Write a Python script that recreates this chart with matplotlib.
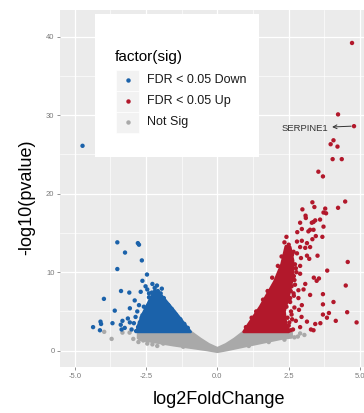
import matplotlib.pyplot as plt
from matplotlib.patches import Rectangle

# colours of the three groups
col_down = '#1B62AA'
col_up = '#B2182B'
col_ns = '#A9A9A9'

# scattered significant genes (log2FC, -log10 p)
up_x = [4.72, 4.23, 4.79, 3.97, 4.07, 4.21, 4.04, 4.36, 3.54, 3.70, 4.48, 4.23, 3.33, 3.40,
        3.78, 2.98, 3.72, 3.81, 3.09, 3.10, 3.43, 3.60, 3.31, 3.37, 2.90, 2.96, 2.80, 3.72,
        3.25, 3.19, 3.37, 3.45, 3.68, 2.79, 2.96, 3.14, 3.25, 3.08, 3.33, 2.90, 2.67, 2.61,
        2.79, 2.44, 3.14, 3.51, 2.93, 4.57, 3.85, 3.22, 3.38, 3.56, 3.48, 3.08, 4.50, 3.25,
        3.70, 3.70, 4.07, 3.91, 3.70, 3.84, 4.55, 4.15, 4.88, 3.43, 3.61, 3.28, 3.37, 3.14,
        2.95, 2.86, 2.96, 2.84, 3.02, 2.84, 2.67, 2.75, 2.90, 2.70, 2.60, 2.90, 2.55, 2.70,
        2.60, 2.75, 2.50, 2.90, 2.65,
        # ragged edge of the dense red cloud
        2.40, 2.52, 2.46, 2.58, 2.42, 2.52, 2.68, 2.57, 2.72, 2.68, 2.77, 2.72, 2.62, 2.50,
        2.35, 2.42, 2.25, 2.12, 1.92, 1.76, 1.60, 1.36, 1.20, 1.00, 2.56, 2.62, 2.47, 2.33,
        2.28, 2.18, 2.45, 2.55]
up_y = [39.2, 30.1, 28.6, 26.3, 26.8, 26.0, 24.4, 24.4, 22.8, 22.2, 19.0, 18.2, 18.9, 18.3,
        18.1, 18.0, 17.6, 17.5, 17.2, 16.9, 16.6, 16.7, 16.3, 16.4, 16.3, 15.5, 15.1, 15.8,
        15.4, 15.2, 15.4, 14.6, 14.5, 13.9, 14.0, 13.7, 13.2, 13.1, 14.2, 13.2, 12.6, 12.2,
        12.4, 11.9, 12.1, 12.1, 11.8, 11.3, 10.2, 11.7, 9.3, 9.2, 8.9, 8.5, 8.3, 7.1,
        7.2, 5.9, 6.2, 4.8, 4.6, 4.2, 4.9, 3.8, 3.6, 3.4, 3.5, 2.7, 2.6, 3.7,
        4.3, 5.2, 5.8, 6.7, 7.8, 7.7, 7.3, 10.5, 9.8, 9.0, 8.2, 10.8, 6.2, 5.5,
        4.6, 3.8, 3.2, 3.0, 2.7,
        3.0, 3.6, 4.2, 5.0, 5.6, 6.3, 7.0, 7.6, 8.4, 9.5, 10.0, 11.0, 12.3, 13.5,
        13.8, 14.5, 12.0, 10.8, 9.3, 7.6, 6.5, 5.0, 4.2, 3.0, 2.6, 4.0, 8.9, 11.4,
        9.6, 8.0, 2.9, 6.7]

down_x = [-4.73, -3.51, -2.79, -2.75, -3.24, -2.65, -3.51, -2.47, -2.63, -3.38, -3.09, -3.98,
          -3.60, -3.07, -4.10, -4.08, -4.36, -4.12, -3.68, -3.33, -3.39, -3.14, -3.07, -3.36,
          -3.25, -2.87, -2.93, -3.01, -2.90, -2.75, -2.69, -2.52, -2.28, -2.09, -2.46, -2.40,
          -1.99, -1.88, -2.81, -2.63,
          # ragged edge of the dense blue cloud
          -2.78, -2.72, -2.66, -2.56, -2.50, -2.44, -2.36, -2.26, -2.15, -2.30, -2.00, -1.86,
          -1.72, -1.60, -1.46, -1.30, -1.16, -1.04, -2.85, -2.58, -2.20, -1.95, -2.40, -2.12]
down_y = [26.1, 13.8, 13.7, 13.5, 12.5, 11.5, 10.4, 9.7, 8.9, 7.6, 7.4, 6.6,
          5.1, 5.4, 3.7, 3.4, 3.0, 2.6, 3.5, 3.8, 3.3, 4.1, 3.6, 2.7,
          2.9, 4.3, 3.5, 2.7, 6.4, 5.8, 7.5, 8.2, 8.5, 7.6, 7.8, 7.3,
          7.3, 6.7, 5.0, 4.5,
          3.0, 3.6, 4.2, 4.6, 5.2, 5.7, 6.2, 6.9, 7.2, 7.4, 6.9, 6.3,
          5.8, 5.3, 4.6, 4.0, 3.4, 2.9, 2.5, 5.6, 8.0, 7.9, 6.8, 8.3]

ns_x = [3.05, 2.82, 2.55, 2.90, -3.97, -3.71, -2.95, -2.77, -2.46, -2.28, -2.11, -3.33, -3.08,
        -2.60, -1.90, -1.20, 1.10, 1.80, 2.35, 2.70]
ns_y = [2.0, 1.8, 1.9, 2.2, 2.4, 1.5, 1.5, 1.1, 0.9, 0.8, 0.6, 2.3, 2.3,
        1.3, 0.9, 0.5, 0.6, 1.1, 1.4, 1.7]

# outlines of the dense clouds of points (too many to read one by one)
down_core_x = [-2.80, -0.94, -1.50, -2.05, -2.20, -2.35, -2.60, -2.80]
down_core_y = [2.4, 2.4, 5.0, 7.4, 7.7, 6.6, 4.8, 3.0]
up_core_x = [0.92, 2.50, 2.40, 2.35, 2.50, 2.65, 2.65, 2.55, 2.40, 2.25, 2.00, 1.50, 1.04]
up_core_y = [2.4, 2.4, 3.5, 5.0, 7.0, 9.5, 11.5, 13.2, 13.3, 11.0, 8.8, 5.6, 3.1]
ns_core_x = [-2.78, -0.94, -0.60, -0.30, 0.00, 0.30, 0.60, 0.92, 2.60, 2.60, 2.32, 1.39,
             0.34, 0.00, -0.36, -1.53, -2.69, -2.78]
ns_core_y = [2.4, 2.4, 1.5, 0.8, 0.3, 0.8, 1.5, 2.4, 2.4, 1.7, 1.6, 0.9,
             0.1, -0.13, 0.1, 0.7, 1.4, 1.6]

label_gene = 'SERPINE1'
label_xy = (4.79, 28.6)

W, H = 364, 413
fig = plt.figure(figsize=(W / 100, H / 100), dpi=100)
plt.rcParams['font.family'] = ['Liberation Sans', 'DejaVu Sans']
ax = fig.add_axes([60 / W, 1 - 367 / H, 1 - 60 / W, (367 - 10) / H])
ax.set_facecolor('#EBEBEB')
for s in ax.spines.values():
    s.set_visible(False)

ax.set_xlim(-5.52, 5.14)
ax.set_ylim(-2.08, 43.4)
ax.set_xticks([-5, -2.5, 0, 2.5, 5])
ax.set_xticklabels(['-5.0', '-2.5', '0.0', '2.5', '5.0'])
ax.set_yticks([0, 10, 20, 30, 40])
ax.set_xticks([-3.75, -1.25, 1.25, 3.75], minor=True)
ax.set_yticks([5, 15, 25, 35], minor=True)
ax.grid(which='major', color='white', lw=0.9)
ax.grid(which='minor', color='white', lw=0.45)
ax.set_axisbelow(True)
ax.tick_params(which='major', length=2.5, width=0.6, color='#808080',
               labelsize=5.5, labelcolor='#7A7A7A', pad=1.5)
ax.tick_params(which='minor', length=0)

# dense clouds
ax.fill(ns_core_x, ns_core_y, color=col_ns, lw=2, joinstyle='round')
ax.fill(down_core_x, down_core_y, color=col_down, lw=2, joinstyle='round')
ax.fill(up_core_x, up_core_y, color=col_up, lw=2, joinstyle='round')

# individual points
ax.scatter(ns_x, ns_y, s=10, c=col_ns, edgecolor='none')
ax.scatter(down_x, down_y, s=10, c=col_down, edgecolor='none')
ax.scatter(up_x, up_y, s=10, c=col_up, edgecolor='none')

ax.annotate(label_gene, xy=(label_xy[0] - 0.1, label_xy[1]), xytext=(3.9, label_xy[1] - 0.25),
            ha='right', va='center', fontsize=6.8, color='#333333',
            arrowprops=dict(arrowstyle='<-', color='#333333', lw=0.7,
                            shrinkA=0.5, shrinkB=0))

fig.text(219 / W, 1 - 400 / H, 'log2FoldChange', ha='center', va='center', fontsize=13)
fig.text(27 / W, 1 - 197 / H, '-log10(pvalue)', ha='center', va='center', fontsize=13,
         rotation=90)

# legend box
fig.add_artist(Rectangle((95 / W, 1 - 157 / H), (259 - 95) / W, (157 - 14) / H,
                         transform=fig.transFigure, facecolor='white', edgecolor='none'))
fig.text(115 / W, 1 - 57 / H, 'factor(sig)', ha='left', va='center', fontsize=11)
leg_labels = ['FDR < 0.05 Down', 'FDR < 0.05 Up', 'Not Sig']
leg_cols = [col_down, col_up, col_ns]
key_top = [70, 91, 112]
for i, (lab, c) in enumerate(zip(leg_labels, leg_cols)):
    t = key_top[i]
    fig.add_artist(Rectangle((116 / W, 1 - (t + 21) / H), 23 / W, 21 / H,
                             transform=fig.transFigure, facecolor='#F2F2F2',
                             edgecolor='white', lw=0.5))
    fig.add_artist(plt.Line2D([127.7 / W], [1 - (t + 10) / H], marker='o', ms=3.2,
                              color=c, mec='none', transform=fig.transFigure))
    fig.text(147 / W, 1 - (t + 10) / H, lab, ha='left', va='center', fontsize=9,
             color='#1A1A1A')

fig.savefig('out.png', dpi=100)
